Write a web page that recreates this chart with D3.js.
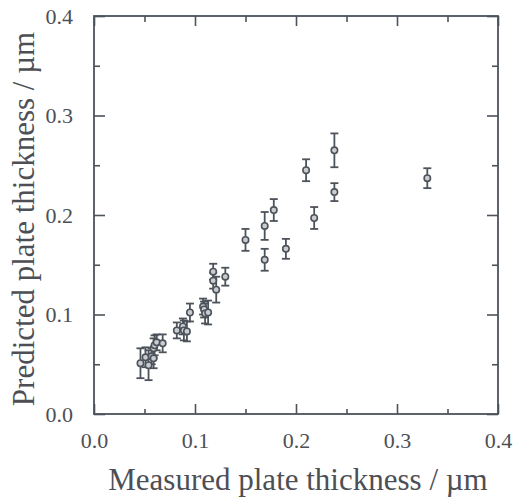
<!DOCTYPE html>
<html>
<head>
<meta charset="utf-8">
<script src="https://cdn.jsdelivr.net/npm/d3@7"></script>
<style>
  body { margin: 0; background: #fff; }
  text { font-family: "Liberation Serif", "Times New Roman", serif; fill: #4d4f55; }
</style>
</head>
<body>
<div id="chart"></div>
<script>
// measured (x), predicted (y) and error of predicted, all in µm
const measured = [0.046, 0.051, 0.054, 0.057, 0.059, 0.059, 0.060, 0.062, 0.068,
    0.082, 0.088, 0.089, 0.092, 0.095, 0.108, 0.109, 0.110, 0.113, 0.118, 0.118,
    0.121, 0.130, 0.150, 0.169, 0.169, 0.178, 0.190, 0.210, 0.218, 0.238, 0.238, 0.330];
const predicted = [0.051, 0.057, 0.049, 0.058, 0.056, 0.066, 0.069, 0.072, 0.071,
    0.084, 0.088, 0.084, 0.083, 0.102, 0.108, 0.105, 0.101, 0.102, 0.143, 0.134,
    0.125, 0.138, 0.175, 0.189, 0.155, 0.205, 0.166, 0.245, 0.197, 0.223, 0.265, 0.237];
const predErr = [0.015, 0.010, 0.015, 0.008, 0.010, 0.010, 0.010, 0.008, 0.009,
    0.008, 0.008, 0.010, 0.010, 0.009, 0.008, 0.008, 0.010, 0.012, 0.008, 0.008,
    0.013, 0.009, 0.011, 0.014, 0.011, 0.011, 0.010, 0.011, 0.011, 0.009, 0.017, 0.010];
const majorTicks = [0.0, 0.1, 0.2, 0.3, 0.4];
const minorTicks = [0.05, 0.15, 0.25, 0.35];

const ink = "#4d535b";
const svg = d3.select("#chart").append("svg")
    .attr("width", 513)
    .attr("height", 501);
const margin = {top: 16, left: 94, right: 15, bottom: 87};
const width = 513 - margin.left - margin.right;
const height = 501 - margin.top - margin.bottom;
const chart = svg.append("g").attr("transform", `translate(${margin.left},${margin.top})`);

const x = d3.scaleLinear().domain([0, 0.4]).range([0, width]);
const y = d3.scaleLinear().domain([0, 0.4]).range([height, 0]);
const fmt = d3.format(".1f");

function styleAxis(g) {
    g.select(".domain").remove();
    g.selectAll("line").attr("stroke", ink).attr("stroke-width", 1.6);
    g.selectAll("text").attr("font-size", 22).attr("fill", "#55585e")
        .style("font-family", '"Liberation Serif", serif');
}

// bottom + top
chart.append("g").attr("transform", `translate(0,${height})`)
    .call(d3.axisBottom(x).tickValues(majorTicks).tickFormat(fmt).tickSizeInner(-10).tickPadding(18))
    .call(styleAxis);
chart.append("g").attr("transform", `translate(0,${height})`)
    .call(d3.axisBottom(x).tickValues(minorTicks).tickFormat("").tickSizeInner(-5))
    .call(styleAxis);
chart.append("g")
    .call(d3.axisTop(x).tickValues(majorTicks).tickFormat("").tickSizeInner(-10))
    .call(styleAxis);
chart.append("g")
    .call(d3.axisTop(x).tickValues(minorTicks).tickFormat("").tickSizeInner(-6))
    .call(styleAxis);
// left + right
chart.append("g")
    .call(d3.axisLeft(y).tickValues(majorTicks).tickFormat(fmt).tickSizeInner(-11).tickPadding(21))
    .call(styleAxis);
chart.append("g")
    .call(d3.axisLeft(y).tickValues(minorTicks).tickFormat("").tickSizeInner(-6))
    .call(styleAxis);
chart.append("g").attr("transform", `translate(${width},0)`)
    .call(d3.axisRight(y).tickValues(majorTicks).tickFormat("").tickSizeInner(-11))
    .call(styleAxis);
chart.append("g").attr("transform", `translate(${width},0)`)
    .call(d3.axisRight(y).tickValues(minorTicks).tickFormat("").tickSizeInner(-6))
    .call(styleAxis);

// frame
chart.append("rect")
    .attr("width", width).attr("height", height)
    .attr("fill", "none").attr("stroke", ink).attr("stroke-width", 1.8);

// error bars and points
const pts = measured.map((m, i) => ({x: m, y: predicted[i], e: predErr[i]}));
const cap = 4;
const eb = chart.append("g").attr("stroke", ink).attr("stroke-width", 1.8).attr("fill", "none");
pts.forEach(d => {
    const cx = x(d.x), top = y(d.y + d.e), bot = y(d.y - d.e);
    eb.append("line").attr("x1", cx).attr("x2", cx).attr("y1", top).attr("y2", bot);
    eb.append("line").attr("x1", cx - cap).attr("x2", cx + cap).attr("y1", top).attr("y2", top);
    eb.append("line").attr("x1", cx - cap).attr("x2", cx + cap).attr("y1", bot).attr("y2", bot);
});
chart.append("g").selectAll("circle").data(pts).join("circle")
    .attr("cx", d => x(d.x)).attr("cy", d => y(d.y)).attr("r", 3.2)
    .attr("fill", "#c9ccd0").attr("stroke", ink).attr("stroke-width", 1.6);

// axis titles
svg.append("text")
    .attr("x", margin.left + width / 2 + 2).attr("y", 490)
    .attr("text-anchor", "middle").attr("font-size", 31)
    .text("Measured plate thickness / \u00b5m");
svg.append("text")
    .attr("transform", `translate(34,${margin.top + height / 2 + 4}) rotate(-90)`)
    .attr("text-anchor", "middle").attr("font-size", 31)
    .text("Predicted plate thickness / \u00b5m");
</script>
</body>
</html>
